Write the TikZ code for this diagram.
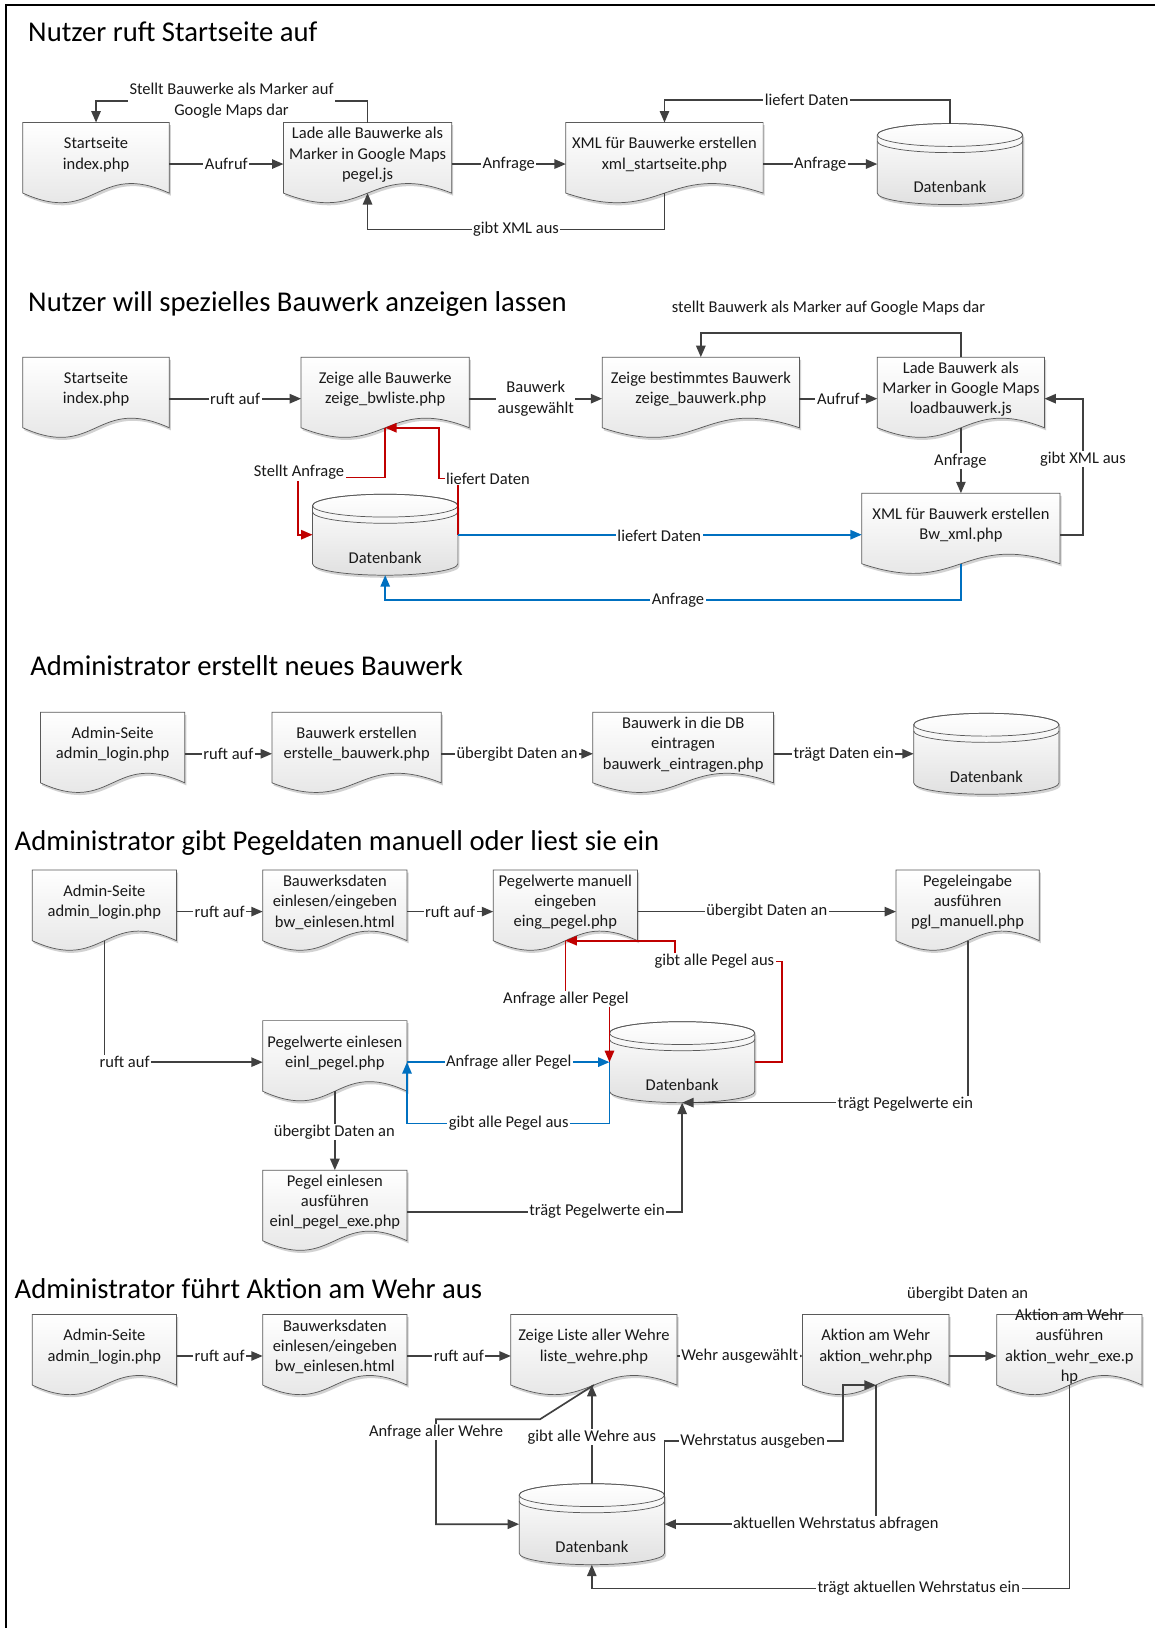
\documentclass[tikz,border=0pt]{standalone}
\usepackage{fontspec}
\setmainfont{Carlito}
\usetikzlibrary{arrows.meta,calc,shadows}

\definecolor{ink}{HTML}{404040}
\definecolor{edgegray}{HTML}{5A5A5A}
\definecolor{redline}{HTML}{C00000}
\definecolor{blueline}{HTML}{0070C0}

\newcommand{\lblfont}{\fontsize{15.9}{19.5}\selectfont}
\newcommand{\headfont}{\fontsize{27.6}{32}\selectfont}

\tikzset{
  shapefill/.style={draw=edgegray, line width=0.7pt, top color=white, bottom color=black!12,
    drop shadow={shadow xshift=1.5pt, shadow yshift=-2.5pt, opacity=0.25, fill=black!70}},
  shapeline/.style={draw=edgegray, line width=0.7pt},
  frame/.style={draw=none, inner sep=0pt, outer sep=0pt, rectangle},
  doctext/.style={inner sep=0pt, font=\lblfont, align=center, text=black!90},
  lbl/.style={fill=white, inner xsep=1.5pt, inner ysep=1pt, font=\lblfont, align=center, text=black!90},
  plainlbl/.style={inner sep=0pt, font=\lblfont, align=center, text=black!90},
  head/.style={anchor=west, inner sep=0pt, font=\headfont, text=black},
  conn/.style={draw=ink, line width=1.6pt, -{Triangle[length=11pt,width=9pt]}},
  redconn/.style={conn, draw=redline, -{Triangle[length=11pt,width=9pt,fill=redline]}},
  blueconn/.style={conn, draw=blueline, -{Triangle[length=11pt,width=9pt,fill=blueline]}},
}

% document shape: name, left x, top y, width, text
\newcommand{\docbox}[5]{%
  \path[shapefill] (#2,#3) -- (#2,#3+68)
    .. controls (#2+#4/2,#3+100) and (#2+#4/2,#3+36) .. (#2+#4,#3+68)
    -- (#2+#4,#3) -- cycle;
  \node[frame, minimum width=#4pt, minimum height=80pt, anchor=north west] (#1) at (#2,#3) {};
  \node[doctext] (#1-t) at ($(#1.north)+(0,31)$) {#5};
  \coordinate (#1-b) at ($(#1.north)+(0,68)$);
}

% database cylinder: name, left x, top y, text
\newcommand{\dbcyl}[4]{%
  \path[shapefill] (#2,#3+11) -- (#2,#3+67)
    arc[start angle=180, end angle=0, x radius=70, y radius=11]
    -- (#2+140,#3+11)
    arc[start angle=0, end angle=-180, x radius=70, y radius=11] -- cycle;
  \draw[shapeline] (#2+70,#3+11) ellipse[x radius=70, y radius=11];
  \draw[shapeline] (#2,#3+17) arc[start angle=180, end angle=0, x radius=70, y radius=11];
  \node[frame, minimum width=140pt, minimum height=78pt, anchor=north west] (#1) at (#2,#3) {};
  \node[doctext] (#1-t) at ($(#1.north)+(0,61)$) {#4};
}

\begin{document}
\begin{tikzpicture}[x=1pt, y=-1pt]
\useasboundingbox (0,0) rectangle (1112,1568);
\fill[white] (0,0) rectangle (1112,1568);
\draw[line width=1.8pt, black] (6,1568) -- (6,5) -- (1112,5);

% ---------------- Nutzer ruft Startseite auf ----------------
\node[head] (t1) at (27,31) {Nutzer ruft Startseite auf};
\docbox{s1a}{22}{118}{141}{Startseite\\index.php}
\docbox{s1b}{273}{118}{162}{Lade alle Bauwerke als\\Marker in Google Maps\\pegel.js}
\docbox{s1c}{545}{118}{190}{XML für Bauwerke erstellen\\xml\_startseite.php}
\dbcyl{s1d}{845}{119}{Datenbank}

\draw[conn] (s1a.east) -- (s1b.west);
\node[lbl] (l1a) at ($(s1a.east)!0.5!(s1b.west)$) {Aufruf};
\draw[conn] (s1b.east) -- (s1c.west);
\node[lbl] (l1b) at ($(s1b.east)!0.5!(s1c.west)$) {Anfrage};
\draw[conn] (s1c.east) -- (s1c.east -| s1d.west);
\node[lbl] (l1c) at ($(s1c.east)!0.5!(s1c.east -| s1d.west)$) {Anfrage};
\draw[conn] (s1b.north) -- ++(0,-21) -| (s1a.north);
\node[lbl] (l1d) at (223,97) {Stellt Bauwerke als Marker auf\\Google Maps dar};
\draw[conn] (s1d.north) -- ++(0,-23) -| (s1c.north);
\node[lbl] (l1e) at (777,96) {liefert Daten};
\draw[conn] (s1c-b) -- ++(0,35) -| (s1b-b);
\node[lbl] (l1f) at (497,221) {gibt XML aus};

% ---------------- Nutzer will spezielles Bauwerk anzeigen lassen ----------------
\node[head] (t2) at (27,293) {Nutzer will spezielles Bauwerk anzeigen lassen};
\docbox{s2a}{22}{344}{141}{Startseite\\index.php}
\docbox{s2b}{290}{344}{162}{Zeige alle Bauwerke\\zeige\_bwliste.php}
\docbox{s2c}{580}{344}{190}{Zeige bestimmtes Bauwerk\\zeige\_bauwerk.php}
\docbox{s2d}{845}{344}{161}{Lade Bauwerk als\\Marker in Google Maps\\loadbauwerk.js}
\docbox{s2e}{830}{475}{191}{XML für Bauwerk erstellen\\Bw\_xml.php}
\dbcyl{s2f}{301}{476}{Datenbank}

\draw[conn] (s2a.east) -- (s2b.west);
\node[lbl] (l2a) at ($(s2a.east)!0.5!(s2b.west)$) {ruft auf};
\draw[conn] (s2b.east) -- (s2c.west);
\node[lbl] (l2b) at ($(s2b.east)!0.5!(s2c.west)$) {Bauwerk\\ausgewählt};
\draw[conn] (s2c.east) -- (s2d.west);
\node[lbl] (l2c) at ($(s2c.east)!0.5!(s2d.west)$) {Aufruf};
\draw[conn] (s2d.north) -- ++(0,-23) -| (s2c.north);
\node[plainlbl] (l2d) at (798,297) {stellt Bauwerk als Marker auf Google Maps dar};
\draw[conn] (s2d-b) -- (s2e.north);
\node[lbl] (l2e) at (925,444) {Anfrage};
\draw[conn] (s2e.east) -- ++(22,0) |- (s2d.east);
\node[lbl] (l2f) at (1043,442) {gibt XML aus};

\draw[redconn] (s2f.east) |- (423,461) |- (s2b-b);
\node[lbl] (l2g) at (470,461) {liefert Daten};
\draw[redconn] (s2b-b) |- (287,460) |- (s2f.west);
\node[lbl] (l2h) at (288,455) {Stellt Anfrage};
\draw[blueconn] (s2f.east) -- (s2f.east -| s2e.west);
\node[lbl] (l2i) at (635,516) {liefert Daten};
\draw[blueconn] (s2e-b) -- ++(0,35) -| (s2f.south);
\node[lbl] (l2j) at (653,578) {Anfrage};

% ---------------- Administrator erstellt neues Bauwerk ----------------
\node[head] (t3) at (29,641) {Administrator erstellt neues Bauwerk};
\docbox{s3a}{39}{686}{139}{Admin-Seite\\admin\_login.php}
\docbox{s3b}{262}{686}{163}{Bauwerk erstellen\\erstelle\_bauwerk.php}
\docbox{s3c}{571}{686}{174}{Bauwerk in die DB\\eintragen\\bauwerk\_eintragen.php}
\dbcyl{s3d}{880}{687}{Datenbank}

\draw[conn] (s3a.east) -- (s3b.west);
\node[lbl] (l3a) at ($(s3a.east)!0.5!(s3b.west)$) {ruft auf};
\draw[conn] (s3b.east) -- (s3c.west);
\node[lbl] (l3b) at ($(s3b.east)!0.5!(s3c.west)$) {übergibt Daten an};
\draw[conn] (s3c.east) -- (s3c.east -| s3d.west);
\node[lbl] (l3c) at ($(s3c.east)!0.5!(s3c.east -| s3d.west)$) {trägt Daten ein};

% ---------------- Administrator gibt Pegeldaten manuell oder liest sie ein ----------------
\node[head] (t4) at (14,812) {Administrator gibt Pegeldaten manuell oder liest sie ein};
\docbox{s4a}{31}{838}{139}{Admin-Seite\\admin\_login.php}
\docbox{s4b}{253}{838}{139}{Bauwerksdaten\\einlesen/eingeben\\bw\_einlesen.html}
\docbox{s4c}{475}{838}{139}{Pegelwerte manuell\\eingeben\\eing\_pegel.php}
\docbox{s4d}{863}{838}{138}{Pegeleingabe\\ausführen\\pgl\_manuell.php}
\docbox{s4e}{253}{983}{139}{Pegelwerte einlesen\\einl\_pegel.php}
\docbox{s4f}{253}{1127}{139}{Pegel einlesen\\ausführen\\einl\_pegel\_exe.php}
\dbcyl{s4g}{587}{984}{Datenbank}

\draw[conn] (s4a.east) -- (s4b.west);
\node[lbl] (l4a) at ($(s4a.east)!0.5!(s4b.west)$) {ruft auf};
\draw[conn] (s4b.east) -- (s4c.west);
\node[lbl] (l4b) at ($(s4b.east)!0.5!(s4c.west)$) {ruft auf};
\draw[conn] (s4c.east) -- (s4d.west);
\node[lbl] (l4c) at ($(s4c.east)!0.5!(s4d.west)$) {übergibt Daten an};
\draw[conn] (s4a-b) |- (s4e.west);
\node[lbl] (l4d) at (120,1023) {ruft auf};
\draw[conn] (s4e-b) -- (s4f.north);
\node[lbl] (l4e) at (322,1090) {übergibt Daten an};

\draw[redconn] (s4c-b) -- ++(0,56) -| (s4g.west);
\node[lbl] (l4f) at (545,962) {Anfrage aller Pegel};
\draw[redconn] (s4g.east) -- ++(26,0) |- (650,926) |- (s4c-b);
\node[lbl] (l4g) at (688,926) {gibt alle Pegel aus};
\draw[blueconn] (s4e.east) -- (s4e.east -| s4g.west);
\node[lbl] (l4h) at (490,1023) {Anfrage aller Pegel};
\draw[blueconn] (s4g.west) -- ++(0,59) -| (s4e.east);
\node[lbl] (l4i) at (490,1082) {gibt alle Pegel aus};
\draw[conn] (s4d-b) |- (s4g.south);
\node[lbl] (l4j) at (872,1063) {trägt Pegelwerte ein};
\draw[conn] (s4f.east) -| (s4g.south);
\node[lbl] (l4k) at (575,1167) {trägt Pegelwerte ein};

% ---------------- Administrator führt Aktion am Wehr aus ----------------
\node[head] (t5) at (14,1241) {Administrator führt Aktion am Wehr aus};
\docbox{s5a}{31}{1266}{139}{Admin-Seite\\admin\_login.php}
\docbox{s5b}{253}{1266}{139}{Bauwerksdaten\\einlesen/eingeben\\bw\_einlesen.html}
\docbox{s5c}{492}{1266}{160}{Zeige Liste aller Wehre\\liste\_wehre.php}
\docbox{s5d}{773}{1266}{141}{Aktion am Wehr\\aktion\_wehr.php}
\docbox{s5e}{960}{1266}{140}{Aktion am Wehr\\ausführen\\aktion\_wehr\_exe.p\\hp}
\dbcyl{s5f}{500}{1429}{Datenbank}

\draw[conn] (s5a.east) -- (s5b.west);
\node[lbl] (l5a) at ($(s5a.east)!0.5!(s5b.west)$) {ruft auf};
\draw[conn] (s5b.east) -- (s5c.west);
\node[lbl] (l5b) at ($(s5b.east)!0.5!(s5c.west)$) {ruft auf};
\draw[conn, -{Triangle[length=5pt,width=5pt]}] (s5c.east) -- (s5d.west);
\node[lbl] (l5c) at ($(s5c.east)!0.5!(s5d.west)$) {Wehr ausgewählt};
\draw[conn] (s5d.east) -- (s5e.west);
\node[plainlbl] (l5d) at (932,1246) {übergibt Daten an};

\draw[conn] (s5c-b) -- (520,1367) -- (420,1367) |- (s5f.west);
\node[lbl] (l5e) at (420,1379) {Anfrage aller Wehre};
\draw[conn] (s5f.north) -- (s5f.north |- s5c-b);
\node[lbl] (l5f) at (570,1384) {gibt alle Wehre aus};
\draw[conn] ($(s5f.north east)+(0,12)$) |- (812,1388) |- (s5d-b);
\node[lbl] (l5g) at (725,1388) {Wehrstatus ausgeben};
\draw[conn] (s5d-b) |- (s5f.east);
\node[lbl] (l5h) at (805,1468) {aktuellen Wehrstatus abfragen};
\draw[conn] (s5e-b) -- ++(0,196) -| (s5f.south);
\node[lbl] (l5i) at (885,1530) {trägt aktuellen Wehrstatus ein};
\end{tikzpicture}
\end{document}
